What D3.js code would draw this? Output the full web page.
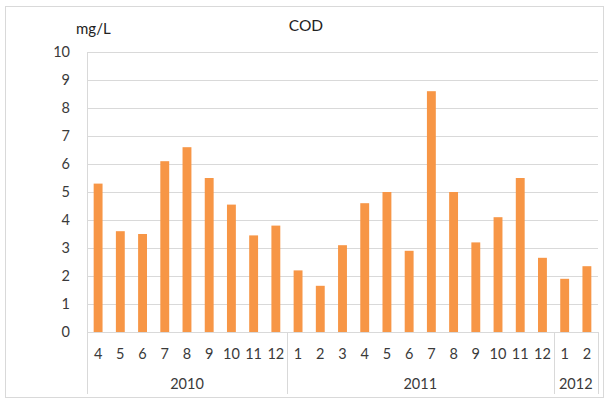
<!DOCTYPE html>
<html>
<head>
<meta charset="utf-8">
<script src="https://cdn.jsdelivr.net/npm/d3@7"></script>
<style>
  html, body { margin: 0; padding: 0; background: #fff; }
  svg { display: block; font-family: Lato, "Open Sans", sans-serif; }
</style>
</head>
<body>
<svg id="chart" width="605" height="399"></svg>
<script>
// Monthly COD readings, grouped by year
const years = ["2010", "2011", "2012"];
const months2010 = ["4", "5", "6", "7", "8", "9", "10", "11", "12"];
const months2011 = ["1", "2", "3", "4", "5", "6", "7", "8", "9", "10", "11", "12"];
const months2012 = ["1", "2"];
const cod2010 = [5.3, 3.6, 3.5, 6.1, 6.6, 5.5, 4.55, 3.45, 3.8];
const cod2011 = [2.2, 1.65, 3.1, 4.6, 5.0, 2.9, 8.6, 5.0, 3.2, 4.1, 5.5, 2.65];
const cod2012 = [1.9, 2.35];
const yTicks = [0, 1, 2, 3, 4, 5, 6, 7, 8, 9, 10];

const monthsByYear = [months2010, months2011, months2012];
const valuesByYear = [cod2010, cod2011, cod2012];

const rows = [];
years.forEach((yr, yi) => {
  monthsByYear[yi].forEach((m, mi) => {
    rows.push({ key: yr + "-" + m, year: yr, month: m, value: valuesByYear[yi][mi] });
  });
});

const svg = d3.select("#chart");
const plotLeft = 87, plotRight = 598, plotTop = 52, plotBottom = 332;
const textColor = "#3a3a3a";

// outer chart frame
svg.append("rect")
  .attr("x", 5.5).attr("y", 6.5)
  .attr("width", 598).attr("height", 391)
  .attr("fill", "#fff").attr("stroke", "#d9d9d9");

const x = d3.scaleBand().domain(rows.map(d => d.key)).range([plotLeft, plotRight]).paddingInner(0.6).paddingOuter(0.3);
const y = d3.scaleLinear().domain([0, 10]).range([plotBottom, plotTop]);

// horizontal gridlines
svg.append("g")
  .attr("transform", `translate(${plotLeft},0)`)
  .call(d3.axisLeft(y).tickValues(yTicks).tickSize(-(plotRight - plotLeft)).tickFormat(""))
  .call(g => g.select(".domain").remove())
  .call(g => g.selectAll(".tick line").attr("stroke", "#d9d9d9").attr("stroke-width", 1.2));

// y-axis labels
svg.append("g")
  .attr("transform", `translate(${plotLeft - 14},0)`)
  .call(d3.axisLeft(y).tickValues(yTicks).tickSize(0).tickFormat(d3.format("d")))
  .call(g => g.select(".domain").remove())
  .call(g => g.selectAll(".tick text")
    .attr("font-family", "Lato, 'Open Sans', sans-serif")
    .attr("font-size", 14.5).attr("fill", textColor));

// vertical axis line
svg.append("line")
  .attr("x1", plotLeft + 0.5).attr("x2", plotLeft + 0.5)
  .attr("y1", plotTop).attr("y2", plotBottom)
  .attr("stroke", "#d9d9d9");

// bars
svg.append("g").selectAll("rect")
  .data(rows)
  .join("rect")
  .attr("x", d => x(d.key))
  .attr("y", d => y(d.value))
  .attr("width", x.bandwidth())
  .attr("height", d => y(0) - y(d.value))
  .attr("fill", "#f79646");

// baseline
svg.append("line")
  .attr("x1", plotLeft).attr("x2", plotRight)
  .attr("y1", plotBottom + 0.5).attr("y2", plotBottom + 0.5)
  .attr("stroke", "#d9d9d9").attr("stroke-width", 1.2);

// month labels
const step = x.step();
svg.append("g").selectAll("text")
  .data(rows)
  .join("text")
  .attr("x", d => x(d.key) + x.bandwidth() / 2)
  .attr("y", 359)
  .attr("text-anchor", "middle")
  .attr("font-size", 14.5).attr("fill", textColor)
  .text(d => d.month);

// year groups: separators and labels
const groups = years.map((yr) => {
  const keys = rows.filter(r => r.year === yr).map(r => r.key);
  const x0 = x(keys[0]) - (step - x.bandwidth()) / 2;
  const x1 = x(keys[keys.length - 1]) + x.bandwidth() + (step - x.bandwidth()) / 2;
  return { year: yr, x0, x1 };
});

const sepX = [plotLeft, ...groups.map(g => g.x1)];
svg.append("g").selectAll("line")
  .data(sepX)
  .join("line")
  .attr("x1", d => Math.round(d) + 0.5).attr("x2", d => Math.round(d) + 0.5)
  .attr("y1", plotBottom).attr("y2", 394)
  .attr("stroke", "#d9d9d9");

svg.append("g").selectAll("text")
  .data(groups)
  .join("text")
  .attr("x", d => (d.x0 + d.x1) / 2)
  .attr("y", 389)
  .attr("text-anchor", "middle")
  .attr("font-size", 14.5).attr("fill", textColor)
  .text(d => d.year);

// unit and title
svg.append("text")
  .attr("x", 76).attr("y", 34)
  .attr("font-size", 15).attr("fill", "#222")
  .text("mg/L");

svg.append("text")
  .attr("x", 306).attr("y", 31)
  .attr("text-anchor", "middle")
  .attr("font-size", 15.5).attr("fill", "#222")
  .text("COD");
</script>
</body>
</html>
